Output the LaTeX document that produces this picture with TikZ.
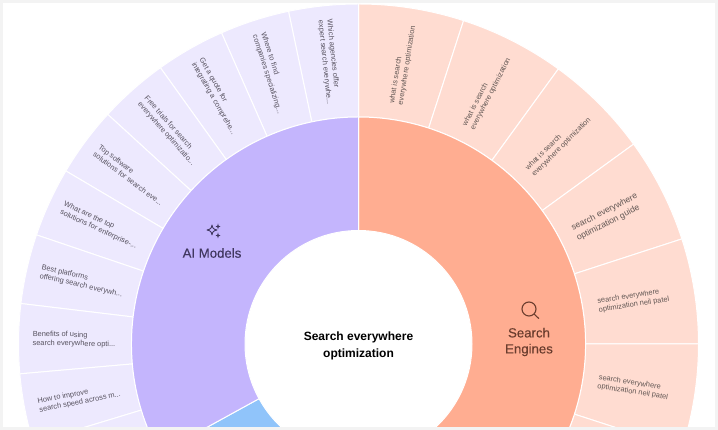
\documentclass[tikz,border=0pt]{standalone}
\usepackage{fontspec}
\setmainfont{Liberation Sans}
\newfontfamily\hubfont[FakeBold=0.25]{Liberation Sans}
\definecolor{pagegray}{HTML}{F3F3F3}
\definecolor{aiouter}{HTML}{EDE9FE}
\definecolor{aimid}{HTML}{C4B5FD}
\definecolor{seouter}{HTML}{FFDCD1}
\definecolor{semid}{HTML}{FFAD91}
\definecolor{bluemid}{HTML}{90C4FA}
\definecolor{aitext}{HTML}{57525F}
\definecolor{setext}{HTML}{625754}
\definecolor{aidark}{HTML}{40375F}
\definecolor{sedark}{HTML}{6B3D2E}
\tikzset{
  sector/.style={draw=white,line width=1pt,line join=round},
  leaflabel/.style={inner sep=0pt,align=left,anchor=west,font=\fontsize{7.4}{8.8}\selectfont},
  hublabel/.style={inner sep=0pt,align=center,font=\hubfont\fontsize{13.2}{16}\selectfont},
}
\newcommand{\wedgeband}[5]{% colour, from, to (clockwise from top), inner, outer
  \path[sector,fill=#1] ({90-#2}:#4) arc[start angle=90-#2,end angle=90-#3,radius=#4]
    -- ({90-#3}:#5) arc[start angle=90-#3,end angle=90-#2,radius=#5] -- cycle;}
\begin{document}
\begin{tikzpicture}[x=1pt,y=1pt]
\useasboundingbox (0,0) rectangle (718,430);
\fill[pagegray] (0,0) rectangle (718,430);
\fill[white] (3,3) rectangle (715,427);
\begin{scope}
\clip (3,3) rectangle (715,427);
\begin{scope}[shift={(358.5,86)}]
  % outer ring, right
  \foreach \a in {0,18,...,126} {\pgfmathsetmacro{\b}{\a+18}\wedgeband{seouter}{\a}{\b}{227}{340}}
  % outer ring, left
  \foreach \i in {0,...,9} {\pgfmathsetmacro{\a}{-\i*11.88}\pgfmathsetmacro{\b}{\a-11.88}\wedgeband{aiouter}{\a}{\b}{227}{340}}
  \wedgeband{bluemid}{-118.8}{-200}{113.5}{227}
  \wedgeband{semid}{0}{160}{113.5}{227}
  \wedgeband{aimid}{0}{-118.8}{113.5}{227}
  % leaf texts, left half
  \foreach \th/\txt [count=\n] in {
    5.94/{Which agencies offer\\expert search everywhe...},
    17.82/{Where to find\\companies specializing...},
    29.7/{Get a quote for\\integrating a comprehe...},
    41.58/{Free trials for search\\everywhere optimizatio...},
    53.46/{Top software\\solutions for search eve...},
    65.34/{What are the top\\solutions for enterprise-...},
    77.22/{Best platforms\\offering search everywh...},
    89.1/{Benefits of using\\search everywhere opti...},
    100.98/{How to improve\\search speed across m...}}
  { \node[leaflabel,text=aitext,rotate=\th-90] (ai\n) at ({90+\th}:326) {\txt}; }
  % leaf texts, right half
  \foreach \th/\txt [count=\n] in {
    9/{what is search\\everywhere optimization},
    27/{what is search\\everywhere optimization},
    45/{what is search\\everywhere optimization},
    81/{search everywhere\\optimization neil patel},
    99/{search everywhere\\optimization neil patel}}
  { \node[leaflabel,text=setext,rotate=90-\th] (se\n) at ({90-\th}:242.5) {\txt}; }
  \node[leaflabel,text=setext,rotate=27,font=\fontsize{8.6}{11.5}\selectfont] (seguide) at (27:242.5) {search everywhere\\optimization guide};
\end{scope}
\end{scope}
% hub labels
\node[inner sep=0pt,align=center,font=\fontsize{12}{17}\selectfont\bfseries,text=black] (root) at (358.5,84.5) {Search everywhere\\optimization};
\node[hublabel,text=aidark] (aihub) at (212,177) {AI Models};
\node[hublabel,text=sedark] (sehub) at (529,88) {Search\\Engines};
% sparkle icon
\draw[aidark,line width=.9pt,line join=round] (212,205) .. controls (212.6,201.6) and (213.4,200.8) .. (217,200) .. controls (213.4,199.2) and (212.6,198.4) .. (212,195) .. controls (211.4,198.4) and (210.6,199.2) .. (207,200) .. controls (210.6,200.8) and (211.4,201.6) .. (212,205) -- cycle;
\fill[aidark] (218,206.5) -- (218.7,204.2) -- (220.5,203.5) -- (218.7,202.8) -- (218,200.5) -- (217.3,202.8) -- (215.5,203.5) -- (217.3,204.2) -- cycle;
\fill[aidark] (218,197.5) -- (218.7,195.2) -- (220.5,194.5) -- (218.7,193.8) -- (218,191.5) -- (217.3,193.8) -- (215.5,194.5) -- (217.3,195.2) -- cycle;
% magnifier icon
\draw[sedark,line width=1.1pt] (529,121) circle[radius=7];
\draw[sedark,line width=1.1pt,line cap=round] (534,116) -- (538.8,111.5);
\end{tikzpicture}
\end{document}
